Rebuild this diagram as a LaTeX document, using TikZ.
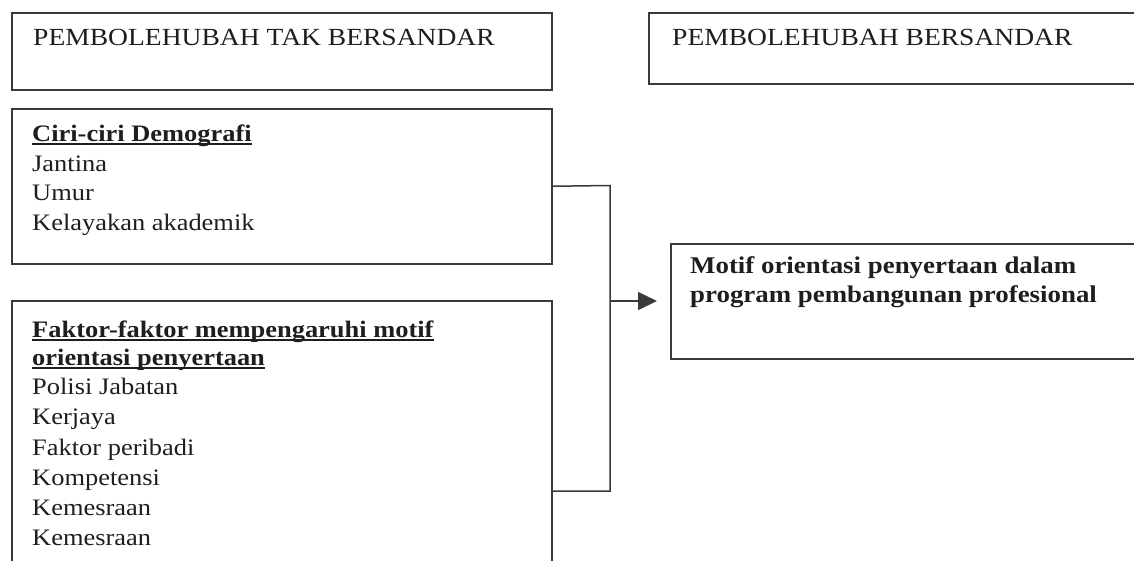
\documentclass[tikz,border=0pt]{standalone}
\usepackage{fontspec}
\setmainfont{Liberation Serif}[FakeStretch=1.12]
\usetikzlibrary{arrows.meta}
\definecolor{linecol}{HTML}{3A3A3A}
\definecolor{textcol}{HTML}{1E1E1E}
\newcommand\bodysz{\fontsize{23.6}{27}\selectfont}
\newcommand\headsz{\fontsize{24.6}{28}\selectfont}
\newcommand\motsz{\fontsize{24}{28}\selectfont}
\tikzset{
  box/.style={draw=linecol, line width=1.5pt, anchor=north west, inner sep=0pt},
  txt/.style={anchor=base west, inner sep=0pt, text=textcol, font=\bodysz},
  bold/.style={txt, font=\bodysz\bfseries},
  mot/.style={txt, font=\motsz\bfseries},
  head/.style={txt, font=\headsz},
  uline/.style={draw=textcol, line width=1.1pt},
  conn/.style={draw=linecol, line width=1.5pt},
}
\begin{document}
\begin{tikzpicture}[x=1pt,y=-1pt]
\useasboundingbox (0,0) rectangle (1134,560);
\clip (0,0) rectangle (1134,560);
\fill[white] (0,0) rectangle (1134,560);
% boxes
\node[box, minimum width=540pt, minimum height=77pt] (h1) at (11,12) {};
\node[box, minimum width=500pt, minimum height=71pt] (h2) at (648,12) {};
\node[box, minimum width=540pt, minimum height=155pt] (ciri) at (11,108) {};
\node[box, minimum width=540pt, minimum height=290pt] (faktor) at (11,300) {};
\node[box, minimum width=480pt, minimum height=115pt] (target) at (670,243) {};
% header texts
\node[head] (h1t) at (33,45) {PEMBOLEHUBAH TAK BERSANDAR};
\node[head] (h2t) at (672,45) {PEMBOLEHUBAH BERSANDAR};
% ciri texts
\node[bold] (c0) at (32,141) {Ciri-ciri Demografi};
\draw[uline] ([yshift=-3pt]c0.base west) -- ([yshift=-3pt]c0.base east);
\node[txt] (c1) at (32,171) {Jantina};
\node[txt] (c2) at (32,200) {Umur};
\node[txt] (c3) at (32,230) {Kelayakan akademik};
% faktor texts
\node[bold] (f0) at (32,337) {Faktor-faktor mempengaruhi motif};
\draw[uline] ([yshift=-3pt]f0.base west) -- ([yshift=-3pt]f0.base east);
\node[bold] (f1) at (32,365) {orientasi penyertaan};
\draw[uline] ([yshift=-3pt]f1.base west) -- ([yshift=-3pt]f1.base east);
\node[txt] (f2) at (32,394) {Polisi Jabatan};
\node[txt] (f3) at (32,424) {Kerjaya};
\node[txt] (f4) at (32,455) {Faktor peribadi};
\node[txt] (f5) at (32,485) {Kompetensi};
\node[txt] (f6) at (32,515) {Kemesraan};
\node[txt] (f7) at (32,545) {Kemesraan};
% target texts
\node[mot] (t1) at (690,273) {Motif orientasi penyertaan dalam};
\node[mot] (t2) at (690,302) {program pembangunan profesional};
% connectors
\coordinate (jt) at (610,185.5);
\coordinate (jm) at (610,301);
\coordinate (jb) at (610,491);
\coordinate (fk) at ([yshift=-191pt]faktor.north east);
\draw[conn] (ciri.east) -- (jt) -- (jb) -- (fk);
\draw[conn, -{Triangle[length=19pt,width=18pt]}, shorten >=13pt] (jm) -- (target.west |- jm);
\end{tikzpicture}
\end{document}
